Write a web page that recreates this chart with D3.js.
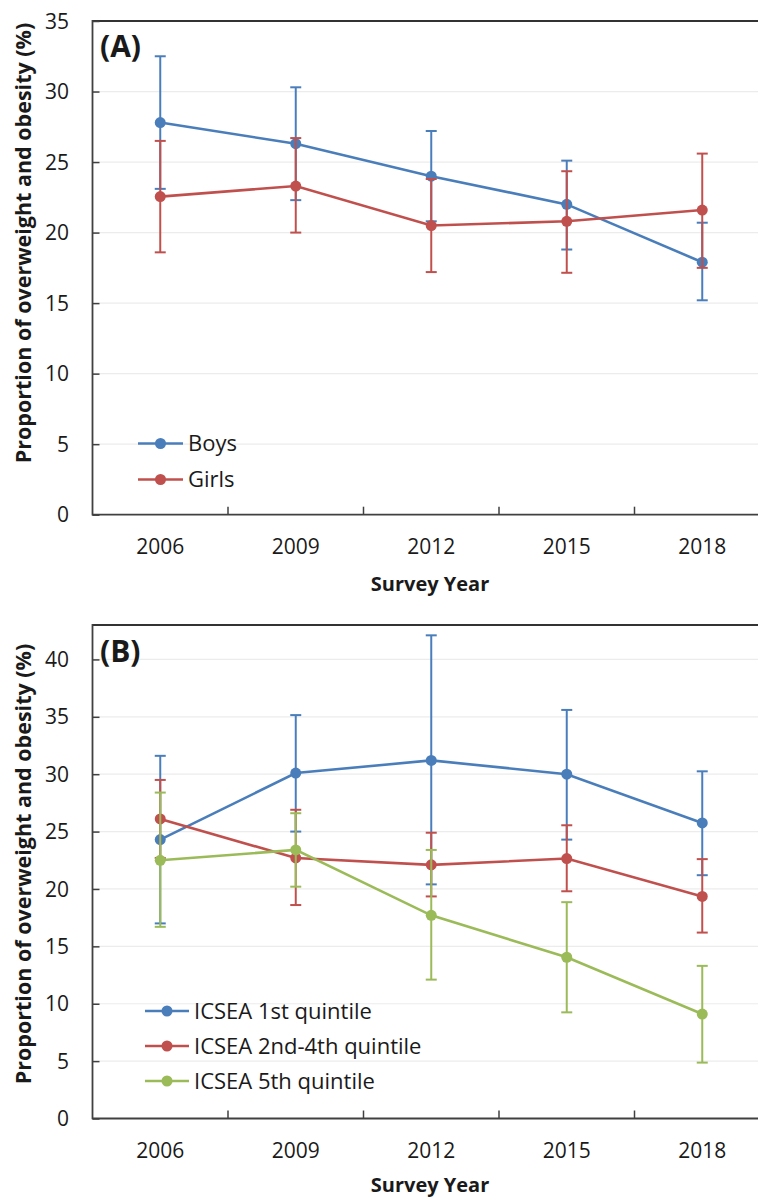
<!DOCTYPE html>
<html><head><meta charset="utf-8">
<script src="https://cdn.jsdelivr.net/npm/d3@7"></script>
<style>
html,body{margin:0;padding:0;background:#fff;}
svg text{font-family:"Open Sans",sans-serif;fill:#1a1a1a;}
</style></head>
<body>
<svg id="chart" width="758" height="1198"></svg>
<script>
// ---------- data ----------
const years = [2006, 2009, 2012, 2015, 2018];

// Panel A
const boysMean  = [27.8, 26.3, 24.0, 22.0, 17.9];
const boysLow   = [23.1, 22.3, 20.8, 18.8, 15.2];
const boysHigh  = [32.5, 30.3, 27.2, 25.1, 20.7];
const girlsMean = [22.55, 23.3, 20.5, 20.8, 21.6];
const girlsLow  = [18.6, 20.0, 17.2, 17.15, 17.5];
const girlsHigh = [26.5, 26.7, 23.8, 24.35, 25.6];
const yTicksA = [0, 5, 10, 15, 20, 25, 30, 35];

// Panel B
const q1Mean  = [24.3, 30.1, 31.2, 30.0, 25.75];
const q1Low   = [17.0, 25.0, 20.4, 24.3, 21.2];
const q1High  = [31.6, 35.15, 42.1, 35.6, 30.25];
const q24Mean = [26.1, 22.7, 22.1, 22.65, 19.35];
const q24Low  = [22.7, 18.6, 19.35, 19.8, 16.2];
const q24High = [29.5, 26.9, 24.9, 25.55, 22.6];
const q5Mean  = [22.5, 23.4, 17.7, 14.05, 9.1];
const q5Low   = [16.7, 20.2, 12.1, 9.25, 4.87];
const q5High  = [28.4, 26.6, 23.4, 18.85, 13.3];
const yTicksB = [0, 5, 10, 15, 20, 25, 30, 35, 40];

const BLUE = "#4a7ebb", RED = "#c0504d", GREEN = "#9bbb59";

const svg = d3.select("#chart");

function panel(cfg) {
  const g = svg.append("g");
  const x = d3.scaleBand().domain(years).range([92.5, 770]).padding(0);
  const cx = d => x(d) + x.bandwidth() / 2;
  const y = d3.scaleLinear().domain([0, cfg.yMax]).range([cfg.bottom, cfg.top]);

  // gridlines
  g.selectAll(".grid").data(cfg.ticks.filter(t => t > 0)).enter().append("line")
    .attr("x1", 93).attr("x2", 758).attr("y1", d => y(d)).attr("y2", d => y(d))
    .attr("stroke", "#ececec").attr("stroke-width", 1.2);

  // top border
  g.append("line").attr("x1", 92.5).attr("x2", 758).attr("y1", cfg.top).attr("y2", cfg.top)
    .attr("stroke", "#333").attr("stroke-width", 2);

  // y axis (inward ticks)
  const ya = g.append("g").attr("transform", "translate(92.5,0)")
    .call(d3.axisRight(y).tickValues(cfg.ticks).tickSize(7).tickFormat(""));
  ya.select(".domain").remove();
  ya.selectAll("line").attr("stroke", "#404040").attr("stroke-width", 1.5);
  g.append("line").attr("x1", 92.5).attr("x2", 92.5).attr("y1", cfg.top - 1).attr("y2", cfg.bottom + 0.75)
    .attr("stroke", "#404040").attr("stroke-width", 1.8);
  g.selectAll(".ylab").data(cfg.ticks).enter().append("text")
    .attr("x", 69).attr("y", d => y(d)).attr("dy", "0.36em")
    .attr("text-anchor", "end").attr("font-size", 21).text(d => d);

  // x axis: band-boundary ticks pointing inward
  const bounds = years.slice(1).map(d => x(d));
  g.append("line").attr("x1", 92.5).attr("x2", 758).attr("y1", cfg.bottom).attr("y2", cfg.bottom)
    .attr("stroke", "#404040").attr("stroke-width", 1.8);
  g.selectAll(".xt").data(bounds).enter().append("line")
    .attr("x1", d => d).attr("x2", d => d).attr("y1", cfg.bottom).attr("y2", cfg.bottom - 8)
    .attr("stroke", "#404040").attr("stroke-width", 1.5);
  g.selectAll(".xlab").data(years).enter().append("text")
    .attr("x", d => cx(d)).attr("y", cfg.bottom + 39)
    .attr("text-anchor", "middle").attr("font-size", 21).text(d => d);

  // axis titles
  g.append("text").attr("x", 430).attr("y", cfg.bottom + cfg.xTitleOff)
    .attr("text-anchor", "middle").attr("font-size", 20).attr("font-weight", "bold")
    .text("Survey Year");
  g.append("text").attr("transform", `translate(31,${cfg.titleY}) rotate(-90)`)
    .attr("text-anchor", "middle").attr("font-size", 21.5).attr("font-weight", "bold")
    .text("Proportion of overweight and obesity (%)");

  // panel label
  g.append("text").attr("x", 100).attr("y", cfg.labelY)
    .attr("font-size", 30).attr("font-weight", "bold").text(cfg.label);

  // series
  const line = d3.line().x(d => cx(d.year)).y(d => y(d.v));
  cfg.series.forEach(s => {
    const pts = years.map((yr, i) => ({ year: yr, v: s.mean[i], lo: s.low[i], hi: s.high[i] }));
    const sg = g.append("g");
    sg.append("path").datum(pts).attr("d", line).attr("fill", "none")
      .attr("stroke", s.color).attr("stroke-width", 2.6);
    sg.selectAll(".eb").data(pts).enter().append("line")
      .attr("x1", d => cx(d.year)).attr("x2", d => cx(d.year))
      .attr("y1", d => y(d.lo)).attr("y2", d => y(d.hi))
      .attr("stroke", s.color).attr("stroke-width", 2);
    ["lo", "hi"].forEach(k => {
      sg.selectAll(".cap" + k).data(pts).enter().append("line")
        .attr("x1", d => cx(d.year) - 5.5).attr("x2", d => cx(d.year) + 5.5)
        .attr("y1", d => y(d[k])).attr("y2", d => y(d[k]))
        .attr("stroke", s.color).attr("stroke-width", 2);
    });
    sg.selectAll(".pt").data(pts).enter().append("circle")
      .attr("cx", d => cx(d.year)).attr("cy", d => y(d.v)).attr("r", 5.5)
      .attr("fill", s.color);
  });

  // legend
  cfg.series.forEach((s, i) => {
    const ly = cfg.legY + i * cfg.legStep;
    g.append("line").attr("x1", cfg.legX0).attr("x2", cfg.legX1).attr("y1", ly).attr("y2", ly)
      .attr("stroke", s.color).attr("stroke-width", 2.6);
    g.append("circle").attr("cx", (cfg.legX0 + cfg.legX1) / 2).attr("cy", ly).attr("r", 5.5).attr("fill", s.color);
    g.append("text").attr("x", cfg.legX1 + 5).attr("y", ly).attr("dy", "0.36em")
      .attr("font-size", 22).text(s.name);
  });
}

panel({
  yMax: 35, top: 21, bottom: 514.7, ticks: yTicksA, titleY: 243, xTitleOff: 76,
  label: "(A)", labelY: 57,
  legX0: 138, legX1: 183, legY: 443.5, legStep: 36,
  series: [
    { name: "Boys", color: BLUE, mean: boysMean, low: boysLow, high: boysHigh },
    { name: "Girls", color: RED, mean: girlsMean, low: girlsLow, high: girlsHigh }
  ]
});

panel({
  yMax: 43, top: 625, bottom: 1118.5, ticks: yTicksB, titleY: 864, xTitleOff: 73.5,
  label: "(B)", labelY: 662,
  legX0: 145, legX1: 189, legY: 1011, legStep: 35,
  series: [
    { name: "ICSEA 1st quintile", color: BLUE, mean: q1Mean, low: q1Low, high: q1High },
    { name: "ICSEA 2nd-4th quintile", color: RED, mean: q24Mean, low: q24Low, high: q24High },
    { name: "ICSEA 5th quintile", color: GREEN, mean: q5Mean, low: q5Low, high: q5High }
  ]
});
</script>
</body></html>
